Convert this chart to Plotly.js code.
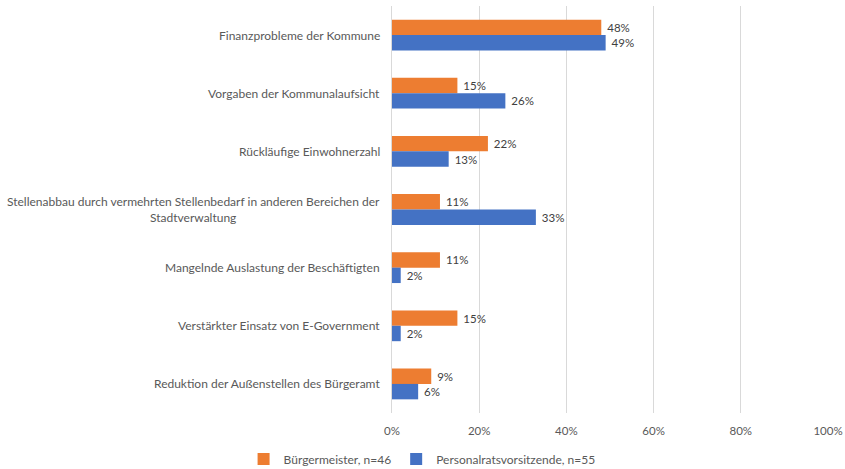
<!DOCTYPE html>
<html>
<head>
<meta charset="utf-8">
<script src="https://cdn.plot.ly/plotly-3.0.1.min.js"></script>
<style>html,body{margin:0;padding:0;background:#fff;}#chart{width:845px;height:469px;}</style>
</head>
<body>
<div id="chart"></div>
<script>
const categories = [
  "Finanzprobleme der Kommune",
  "Vorgaben der Kommunalaufsicht",
  "Rückläufige Einwohnerzahl",
  "Stellenabbau durch vermehrten Stellenbedarf in anderen Bereichen der<br>Stadtverwaltung",
  "Mangelnde Auslastung der Beschäftigten",
  "Verstärkter Einsatz von E-Government",
  "Reduktion der Außenstellen des Bürgeramt"
];
const buergermeister = [48, 15, 22, 11, 11, 15, 9];
const personalrat = [49, 26, 13, 33, 2, 2, 6];
const seriesNames = ["Bürgermeister, n=46", "Personalratsvorsitzende, n=55"];
const tickVals = [0, 20, 40, 60, 80, 100];
const tickText = ["0%", "20%", "40%", "60%", "80%", "100%"];

const font = "Lato, 'Open Sans', sans-serif";
const mk = (vals, name, color) => ({
  type: 'bar', orientation: 'h', x: vals, y: categories, name: name,
  marker: {color: color},
  text: vals.map(v => '\u00a0' + v + '%'), textposition: 'outside',
  textfont: {family: font, size: 11.5, color: '#404040'},
  cliponaxis: false, hoverinfo: 'none'
});
const data = [
  mk(buergermeister, seriesNames[0], '#ED7D31'),
  mk(personalrat, seriesNames[1], '#4472C4')
];
const annotations = categories.map(c => ({
  xref: 'paper', yref: 'y', x: 0, y: c, xanchor: 'right', xshift: -10,
  text: c, showarrow: false, align: 'center',
  font: {family: font, size: 12, color: '#595959'}
}));
const layout = {
  width: 845, height: 469,
  margin: {l: 392, r: 17, t: 6, b: 56, autoexpand: false},
  barmode: 'group', bargap: 0.47, bargroupgap: 0,
  font: {family: font, size: 11.5, color: '#595959'},
  xaxis: {range: [0, 100], tickvals: tickVals, ticktext: tickText,
    showgrid: true, gridcolor: '#d9d9d9', gridwidth: 1, zeroline: false,
    showline: false, ticks: '', ticklabelstandoff: 9,
    tickfont: {family: font, size: 11.5, color: '#595959'}},
  yaxis: {autorange: 'reversed', showticklabels: false, ticks: '', showline: true,
    linecolor: '#d9d9d9', linewidth: 1, showgrid: false, zeroline: false},
  showlegend: true,
  legend: {orientation: 'h', x: 0.069, xanchor: 'center',
    y: -0.113, yanchor: 'middle',
    font: {family: font, size: 12, color: '#595959'}, traceorder: 'normal',
    itemwidth: 30},
  annotations: annotations,
  paper_bgcolor: '#fff', plot_bgcolor: '#fff'
};
Plotly.newPlot('chart', data, layout, {displayModeBar: false, staticPlot: true});
</script>
</body>
</html>
